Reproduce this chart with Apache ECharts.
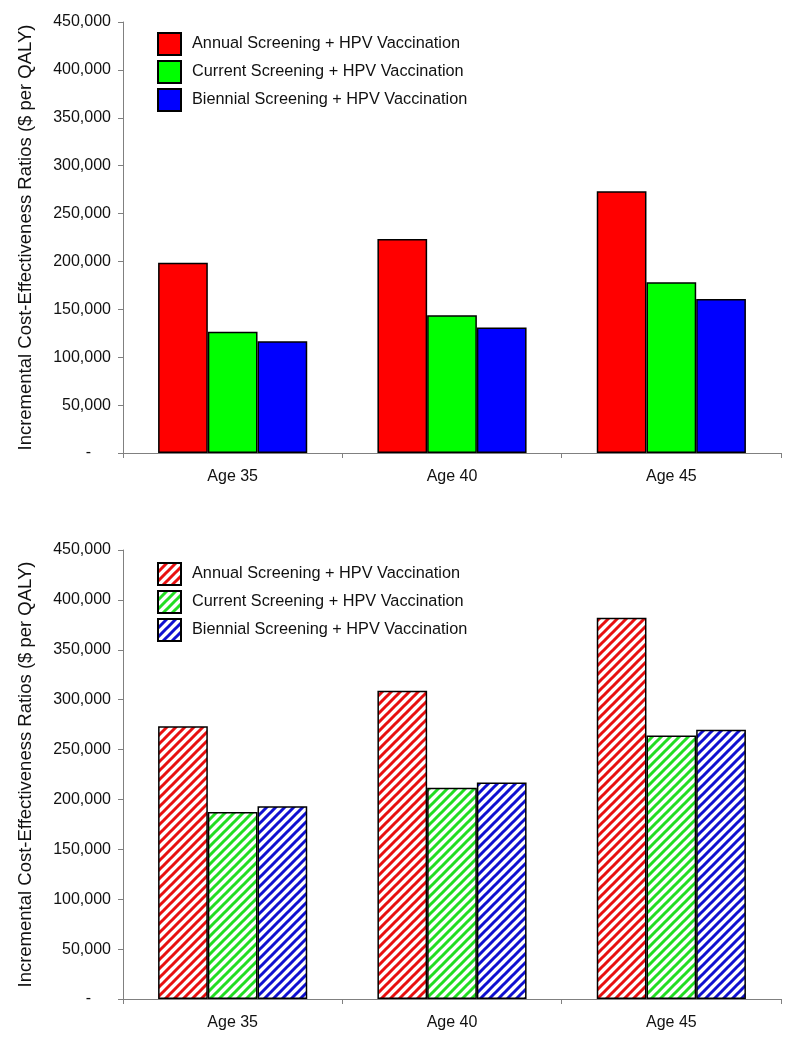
<!DOCTYPE html>
<html>
<head>
<meta charset="utf-8">
<script src="https://cdn.jsdelivr.net/npm/echarts@6/dist/echarts.min.js"></script>
<style>
html,body{margin:0;padding:0;background:#fff;}
#top{position:absolute;left:0;top:0;width:796px;height:525px;}
#bottom{position:absolute;left:0;top:525px;width:796px;height:525px;}
</style>
</head>
<body>
<div id="top"></div>
<div id="bottom"></div>
<script>
// ---- Data ----
const categories = ['Age 35', 'Age 40', 'Age 45'];
const seriesNames = [
  'Annual Screening + HPV Vaccination',
  'Current Screening + HPV Vaccination',
  'Biennial Screening + HPV Vaccination'
];
const topAnnual = [198600, 223500, 273200];
const topCurrent = [126500, 143700, 178400];
const topBiennial = [116700, 131100, 160900];
const bottomAnnual = [273300, 308900, 382100];
const bottomCurrent = [187300, 211700, 264200];
const bottomBiennial = [193200, 217000, 269800];
const yMin = 0, yMax = 450000, yStep = 50000;
const yTitle = 'Incremental Cost-Effectiveness Ratios ($ per QALY)';

// ---- Styles ----
const FONT = '"Liberation Sans", Arial, sans-serif';
const solidColors = ['#ff0000', '#00ff00', '#0000ff'];
const hatchColors = ['#e81010', '#22dd22', '#1010d0'];

function hatch(color) {
  const s = 9;
  const c = document.createElement('canvas');
  c.width = s; c.height = s;
  const g = c.getContext('2d');
  g.fillStyle = '#ffffff';
  g.fillRect(0, 0, s, s);
  g.strokeStyle = color;
  g.lineWidth = 3;
  g.beginPath();
  g.moveTo(-2, s + 2); g.lineTo(s + 2, -2);
  g.moveTo(-2, 2); g.lineTo(2, -2);
  g.moveTo(s - 2, s + 2); g.lineTo(s + 2, s - 2);
  g.stroke();
  return c;
}

function fmt(v) {
  if (v === 0) return '{d|-}';
  return String(v).replace(/\B(?=(\d{3})+(?!\d))/g, ',');
}

function makeOption(data, fills, grid, legendTop) {
  return {
    animation: false,
    backgroundColor: '#ffffff',
    textStyle: { fontFamily: FONT },
    legend: {
      orient: 'vertical',
      left: 157,
      top: legendTop,
      padding: 0,
      itemWidth: 23,
      itemHeight: 22,
      itemGap: 4,
      icon: 'rect',
      selectedMode: false,
      itemStyle: { borderColor: '#000', borderWidth: 2 },
      textStyle: { fontFamily: FONT, fontSize: 16.3, color: '#111', padding: [0, 0, 0, 6] },
      data: seriesNames
    },
    grid: grid,
    xAxis: {
      type: 'category',
      data: categories,
      axisLine: { lineStyle: { color: '#808080', width: 1 } },
      axisTick: { show: true, length: 5, lineStyle: { color: '#808080' } },
      axisLabel: { fontFamily: FONT, fontSize: 16, color: '#111', margin: 16 }
    },
    yAxis: {
      type: 'value',
      min: yMin, max: yMax, interval: yStep,
      name: yTitle,
      nameLocation: 'middle',
      nameGap: 88,
      nameTextStyle: { fontFamily: FONT, fontSize: 18.5, color: '#111' },
      axisLine: { show: true, lineStyle: { color: '#808080', width: 1 } },
      axisTick: { show: true, length: 5, lineStyle: { color: '#808080' } },
      splitLine: { show: false },
      axisLabel: {
        fontFamily: FONT, fontSize: 16, color: '#111', margin: 12,
        formatter: fmt,
        rich: { d: { fontFamily: FONT, fontSize: 16, color: '#111', padding: [0, 20, 0, 0] } }
      }
    },
    series: data.map((d, i) => ({
      name: seriesNames[i],
      type: 'bar',
      data: d,
      barGap: '0%',
      barCategoryGap: '32%',
      itemStyle: { color: fills[i], borderColor: '#000', borderWidth: 1.5 }
    }))
  };
}

const topChart = echarts.init(document.getElementById('top'), null, { renderer: 'canvas' });
topChart.setOption(makeOption(
  [topAnnual, topCurrent, topBiennial],
  solidColors,
  { left: 123, right: 15, top: 22, bottom: 72 },
  32
));

const hatchFills = hatchColors.map(c => ({ image: hatch(c), repeat: 'repeat' }));
const bottomChart = echarts.init(document.getElementById('bottom'), null, { renderer: 'canvas' });
bottomChart.setOption(makeOption(
  [bottomAnnual, bottomCurrent, bottomBiennial],
  hatchFills,
  { left: 123, right: 15, top: 25, bottom: 51 },
  37
));
</script>
</body>
</html>
